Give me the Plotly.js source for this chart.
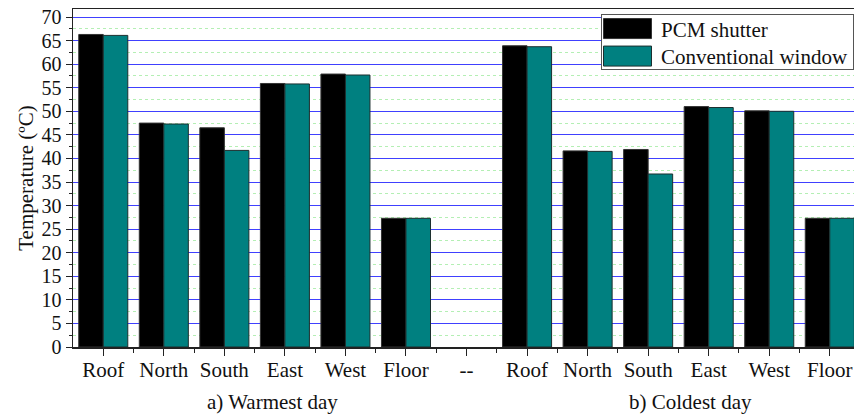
<!DOCTYPE html>
<html><head><meta charset="utf-8">
<script src="https://cdn.plot.ly/plotly-3.0.1.min.js"></script>
<style>html,body{margin:0;padding:0;background:#fff}</style>
</head><body>
<div id="chart" style="width:854px;height:415px"></div>
<script>
const categories = ["Roof","North","South","East","West","Floor","--","Roof","North","South","East","West","Floor"];
const pcmShutter = [66.3,47.5,46.5,55.9,57.9,27.3,null,63.9,41.6,41.9,51.0,50.1,27.3];
const conventionalWindow = [66.1,47.3,41.7,55.8,57.7,27.3,null,63.7,41.5,36.7,50.8,50.0,27.3];
const seriesNames = ["PCM shutter","Conventional window"];
const groupLabels = ["a) Warmest day","b) Coldest day"];
const yTicks = [0,5,10,15,20,25,30,35,40,45,50,55,60,65,70];

const xIdx = categories.map((c,i)=>i);
const FAM = "Liberation Serif";
const font = {family:FAM, color:"#111", size:20};

const traces = [
  {type:"bar", name:seriesNames[0], x:xIdx, y:pcmShutter,
   marker:{color:"#000000", line:{color:"#333333", width:1}}},
  {type:"bar", name:seriesNames[1], x:xIdx, y:conventionalWindow,
   marker:{color:"#008080", line:{color:"#1c2f2f", width:1}}}
];

const layout = {
  width:854, height:415,
  margin:{l:73, r:0, t:9, b:68},
  paper_bgcolor:"#fff", plot_bgcolor:"#fff",
  font:font,
  barmode:"group", bargap:0.19, bargroupgap:0,
  showlegend:true,
  legend:{x:1, xanchor:"right", y:0.985, yanchor:"top", bgcolor:"#fff",
          bordercolor:"#555", borderwidth:1, font:{family:FAM, size:21, color:"#111"},
          tracegroupgap:0, itemwidth:49},
  xaxis:{
    range:[-0.5, 12.4], tickmode:"array", tickvals:xIdx, ticktext:categories,
    showgrid:false, zeroline:false, showline:true, linecolor:"#222", linewidth:1.5,
    mirror:true, ticks:"outside", ticklen:7, tickcolor:"#222", tickwidth:1,
    ticklabelstandoff:-4,
    tickfont:{family:FAM, size:21, color:"#111"},
    minor:{tickmode:"array", tickvals:xIdx.map(i=>i+0.5), ticks:"outside", ticklen:4, tickcolor:"#222", showgrid:false}
  },
  yaxis:{
    range:[0, 71.7], tickmode:"array", tickvals:yTicks,
    showgrid:true, gridcolor:"#4040ff", gridwidth:1,
    zeroline:false, showline:true, linecolor:"#222", linewidth:1.5, mirror:false,
    ticks:"outside", ticklen:6, tickcolor:"#222", tickwidth:1,
    tickfont:{family:FAM, size:20, color:"#111"},
    title:{text:"Temperature (ºC)", font:{family:FAM, size:21, color:"#111"}, standoff:2},
    minor:{dtick:2.5, tick0:0, ticks:"outside", ticklen:3, tickcolor:"#222",
           showgrid:true, gridcolor:"#b4efb4", griddash:"dot", gridwidth:1}
  },
  annotations:[
    {text:groupLabels[0], x:2.79, y:0, xref:"x", yref:"paper", yanchor:"top", yshift:-41,
     showarrow:false, font:{family:FAM, size:21, color:"#111"}},
    {text:groupLabels[1], x:9.7, y:0, xref:"x", yref:"paper", yanchor:"top", yshift:-41,
     showarrow:false, font:{family:FAM, size:21, color:"#111"}}
  ]
};

Plotly.newPlot("chart", traces, layout, {displayModeBar:false, staticPlot:true}).then(function(gd){
  const leg = gd.querySelector(".legend");
  if (!leg) return;
  leg.querySelectorAll(".legendpoints path").forEach(function(p){
    p.setAttribute("d","M-28,-10H20V10H-28Z");
  });
  const rowY = [14.5, 42];
  leg.querySelectorAll("g.traces").forEach(function(t, i){
    const tr = t.getAttribute("transform") || "";
    const m = tr.match(/translate\(\s*([-\d.e]+)[ ,]+([-\d.e]+)\s*\)/);
    const x0 = m ? parseFloat(m[1]) : 0;
    if (i < rowY.length) t.setAttribute("transform", "translate(" + x0 + "," + rowY[i] + ")");
  });
  const bg = leg.querySelector("rect.bg");
  if (bg) bg.setAttribute("height", "55");
});
</script>
</body></html>
